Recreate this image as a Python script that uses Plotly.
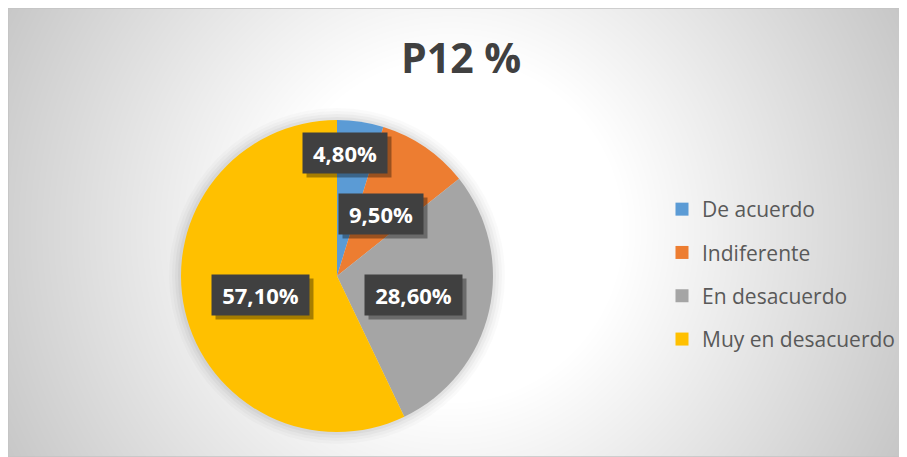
import numpy as np
import plotly.graph_objects as go

# ---- data ----
categories = ["De acuerdo", "Indiferente", "En desacuerdo", "Muy en desacuerdo"]
values = [4.8, 9.5, 28.6, 57.1]
label_text = ["4,80%", "9,50%", "28,60%", "57,10%"]
colors = ["#5B9BD5", "#ED7D31", "#A5A5A5", "#FFC000"]
title_text = "P12 %"

# page offset from the browser's default body margin
OFF = 8
W, H = 899, 449

# pie geometry (page pixels)
CX, CY, R = 337, 276, 156


def px_x(x):
    return (x - OFF) / W


def px_y(y):
    return 1 - (y - OFF) / H


fig = go.Figure()

# background radial gradient (styling), in figure pixels
gx = np.arange(0, W + 3, 3)
gy = np.arange(0, H + 3, 3)
XX, YY = np.meshgrid(gx + OFF, gy + OFF)
D = np.sqrt((XX - 450) ** 2 + (YY - 230) ** 2)
Z = np.clip(0.17 * (D - 170), 0, 62)
fig.add_trace(go.Heatmap(
    x=gx, y=gy, z=Z, zmin=0, zmax=62,
    colorscale=[[0, "rgb(255,255,255)"], [1, "rgb(193,193,193)"]],
    showscale=False, hoverinfo="skip", zsmooth="best",
))

# soft glow/shadow around pie (styling)
for extra, a in [(12, 0.02), (9, 0.025), (6, 0.03), (3, 0.04)]:
    r = R + extra
    fig.add_trace(go.Pie(
        values=[1], marker=dict(colors=[f"rgba(0,0,0,{a})"], line=dict(width=0)),
        domain=dict(x=[px_x(CX - r), px_x(CX + r)], y=[px_y(CY + r), px_y(CY - r)]),
        textinfo="none", hoverinfo="skip", showlegend=False, sort=False,
    ))

fig.add_trace(go.Pie(
    labels=categories, values=values, sort=False, direction="clockwise", rotation=0,
    marker=dict(colors=colors, line=dict(width=0)),
    domain=dict(x=[px_x(CX - R), px_x(CX + R)], y=[px_y(CY + R), px_y(CY - R)]),
    textinfo="none", showlegend=False,
))

# legend entries
for cat, col in zip(categories, colors):
    fig.add_trace(go.Scatter(
        x=[None], y=[None], mode="markers", name=cat, legendgroup=cat,
        marker=dict(symbol="square", size=13, color=col),
    ))

# data labels
label_frac = [0.2, 0.5, 0.5, 0.5]
label_rad = [0.8, 0.5, 0.5, 0.5]
cum = np.concatenate([[0], np.cumsum(values)[:-1]])
total = sum(values)
annotations = []
for i, txt in enumerate(label_text):
    th = 2 * np.pi * (cum[i] + label_frac[i] * values[i]) / total
    lx = CX + label_rad[i] * R * np.sin(th)
    ly = CY - label_rad[i] * R * np.cos(th) + 2
    bw = 13 * len(txt) + 7
    common = dict(x=px_x(lx), y=px_y(ly), xref="paper", yref="paper", showarrow=False,
                  borderpad=6, xanchor="center", yanchor="middle", width=bw, height=28)
    annotations.append(dict(common, text="&nbsp;", bgcolor="rgba(0,0,0,0.35)", xshift=4, yshift=-4,
                            font=dict(family="Open Sans", size=10, color="rgba(0,0,0,0)")))
    annotations.append(dict(common, text=txt, bgcolor="#404040",
                            font=dict(family="Open Sans", size=22, color="white", weight="bold")))

annotations.append(dict(x=px_x(461), y=px_y(57), xref="paper", yref="paper", showarrow=False,
                        text="<b>" + title_text + "</b>", xanchor="center", yanchor="middle",
                        font=dict(family="Open Sans", size=41, color="#404040")))

fig.update_layout(
    width=W, height=H, margin=dict(l=0, r=0, t=0, b=0),
    paper_bgcolor="white", plot_bgcolor="rgba(0,0,0,0)",
    xaxis=dict(range=[0, W], visible=False, domain=[0, 1], fixedrange=True),
    yaxis=dict(range=[H, 0], visible=False, domain=[0, 1], fixedrange=True),
    showlegend=True,
    legend=dict(x=px_x(662), y=px_y(189), xanchor="left", yanchor="top",
                bgcolor="rgba(0,0,0,0)", tracegroupgap=13,
                font=dict(family="Open Sans", size=21, color="#595959")),
    annotations=annotations,
    shapes=[dict(type="rect", xref="paper", yref="paper",
                 x0=0, x1=1, y0=0, y1=1,
                 line=dict(color="#c4c4c4", width=1.5), layer="above")],
)

fig.write_html("out.html")
